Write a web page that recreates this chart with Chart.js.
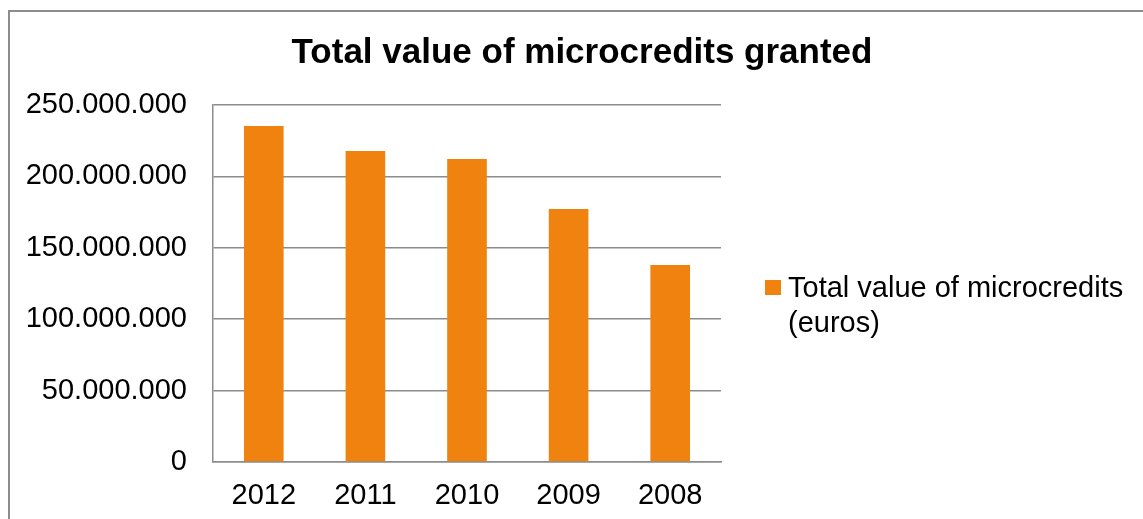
<!DOCTYPE html>
<html>
<head>
<meta charset="utf-8">
<script src="https://cdn.jsdelivr.net/npm/chart.js@4/dist/chart.umd.min.js"></script>
<style>
    body { margin: 0; background: #fff; overflow: hidden; }
    #wrap { position: relative; width: 1143px; height: 519px; overflow: hidden; }
    #frame { position: absolute; left: 8px; top: 10px; width: 1200px; height: 600px; border: 2px solid #8c8c8c; box-sizing: border-box; }
    #microChart { position: absolute; left: 0; top: 0; }
</style>
</head>
<body>
<div id="wrap">
    <div id="frame"></div>
    <canvas id="microChart" width="1143" height="519"></canvas>
</div>
<script>
// Data
const years = ['2012', '2011', '2010', '2009', '2008'];
const totalValues = [235300000, 217800000, 212200000, 177200000, 138000000];
const seriesLabel = 'Total value of microcredits (euros)';
const legendLines = ['Total value of microcredits', '(euros)'];
const chartTitle = 'Total value of microcredits granted';

const FONT = "'Liberation Sans', Arial, sans-serif";
const ORANGE = '#F0820F';
const GRID = '#8c8c8c';

// thousands with dots, like 250.000.000
function dotted(value) {
    return String(Math.round(value)).replace(/\B(?=(\d{3})+(?!\d))/g, '.');
}

// Title is centred on the whole frame, not on the plot, so draw it here
const frameTitle = {
    id: 'frameTitle',
    afterDraw(chart) {
        const ctx = chart.ctx;
        ctx.save();
        ctx.fillStyle = '#000';
        ctx.font = 'bold 35px ' + FONT;
        ctx.textAlign = 'center';
        ctx.textBaseline = 'middle';
        ctx.fillText(chartTitle, 582, 53);
        ctx.restore();
    }
};

// Legend drawn by hand so the label can wrap onto two lines
const sideLegend = {
    id: 'sideLegend',
    afterDraw(chart) {
        const ctx = chart.ctx;
        const area = chart.chartArea;
        const ds = chart.data.datasets[0];
        const x = area.right + 44;
        const y = 289;
        ctx.save();
        ctx.fillStyle = ds.backgroundColor;
        ctx.fillRect(x, y - 9, 16, 15);
        ctx.fillStyle = '#000';
        ctx.font = '29px ' + FONT;
        ctx.textBaseline = 'middle';
        legendLines.forEach((line, i) => {
            ctx.fillText(line, x + 23, y + i * 35);
        });
        ctx.restore();
    }
};

const ctx = document.getElementById('microChart').getContext('2d');
new Chart(ctx, {
    type: 'bar',
    data: {
        labels: years,
        datasets: [{
            label: seriesLabel,
            data: totalValues,
            backgroundColor: ORANGE,
            borderWidth: 0,
            categoryPercentage: 1,
            barPercentage: 0.39
        }]
    },
    options: {
        responsive: false,
        animation: false,
        layout: {
            padding: { left: 0, right: 422, top: 105, bottom: 0 }
        },
        plugins: {
            legend: { display: false },
            tooltip: { enabled: false },
            title: { display: false }
        },
        scales: {
            y: {
                min: 0,
                max: 250000000,
                ticks: {
                    stepSize: 50000000,
                    color: '#000',
                    padding: 26,
                    font: { family: FONT, size: 29 },
                    callback: function(value) {
                        return dotted(value);
                    }
                },
                grid: { color: GRID, lineWidth: 1.5, drawTicks: false },
                border: { color: GRID, width: 1.5 },
                afterFit: function(scale) { scale.width = 213; }
            },
            x: {
                ticks: {
                    color: '#000',
                    padding: 17,
                    font: { family: FONT, size: 29 }
                },
                grid: { display: false, drawTicks: false },
                border: { color: GRID, width: 1.5 },
                afterFit: function(scale) { scale.height = 57; }
            }
        }
    },
    plugins: [frameTitle, sideLegend]
});
</script>
</body>
</html>
